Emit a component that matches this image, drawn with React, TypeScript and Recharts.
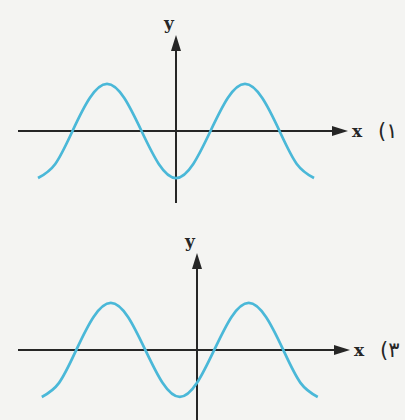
import { LineChart, Line, XAxis, YAxis, ReferenceLine } from 'recharts';

// x in quarter-periods (pi/4), y in amplitude units
const topX = [-8, -7, -6, -5, -4, -3, -2, -1, 0, 1, 2, 3, 4, 5, 6, 7, 8];
const topY = [-1, -0.7, 0, 0.7, 1, 0.7, 0, -0.7, -1, -0.7, 0, 0.7, 1, 0.7, 0, -0.7, -1];

const bottomX = [-9, -8, -7, -6, -5, -4, -3, -2, -1, 0, 1, 2, 3, 4, 5, 6, 7];
const bottomY = [-1, -0.7, 0, 0.7, 1, 0.7, 0, -0.7, -1, -0.7, 0, 0.7, 1, 0.7, 0, -0.7, -1];

const axisLabels = { x: 'x', y: 'y' };
const panelTags = ['(۱', '(۳'];

const AXIS = '#262626';
const CURVE = '#4ab8d8';
const BG = '#f4f4f2';

const topData = topX.map((x, i) => ({ x, y: topY[i] }));
const bottomData = bottomX.map((x, i) => ({ x, y: bottomY[i] }));

const textStyle = { fontFamily: '"DejaVu Serif", "Liberation Serif", serif', fontSize: 17, fill: AXIS, fontWeight: 700 };

const makeXAxisArrow = (tag: string) => (p: any) => {
  const xa = Math.min(p.x1, p.x2);
  const xb = Math.max(p.x1, p.x2);
  const y = p.y1;
  return (
    <g>
      <line x1={xa} y1={y} x2={xb - 8} y2={y} stroke={AXIS} strokeWidth={2} />
      <polygon points={`${xb},${y} ${xb - 16},${y - 5} ${xb - 16},${y + 5}`} fill={AXIS} />
      <text x={xb + 4} y={y + 6} {...textStyle}>{axisLabels.x}</text>
      <text
        x={xb + 30}
        y={y + 7}
        {...textStyle}
        fontWeight={400}
        fontFamily='"DejaVu Sans", sans-serif'
        fontSize={21}
        letterSpacing={7}
      >
        {tag}
      </text>
    </g>
  );
};

const yAxisArrow = (p: any) => {
  const x = p.x1;
  const ya = Math.min(p.y1, p.y2);
  const yb = Math.max(p.y1, p.y2);
  return (
    <g>
      <line x1={x} y1={ya + 8} x2={x} y2={yb} stroke={AXIS} strokeWidth={2} />
      <polygon points={`${x},${ya} ${x - 5},${ya + 16} ${x + 5},${ya + 16}`} fill={AXIS} />
      <text x={x - 7} y={ya - 6} textAnchor="middle" {...textStyle}>{axisLabels.y}</text>
    </g>
  );
};

function Panel({ data, xDomain, yDomain, margin, tag }: any) {
  return (
    <LineChart width={405} height={210} data={data} margin={margin}>
      <XAxis type="number" dataKey="x" domain={xDomain} allowDataOverflow hide />
      <YAxis type="number" domain={yDomain} allowDataOverflow hide />
      <ReferenceLine y={0} shape={makeXAxisArrow(tag)} />
      <ReferenceLine x={0} shape={yAxisArrow} />
      <Line
        type="natural"
        dataKey="y"
        stroke={CURVE}
        strokeWidth={2.7}
        dot={false}
        isAnimationActive={false}
      />
    </LineChart>
  );
}

export default function App() {
  return (
    <div style={{ position: 'fixed', left: 0, top: 0, width: 405, height: 420, background: BG, overflow: 'hidden' }}>
      <Panel
        data={topData}
        xDomain={[-9.16, 9.97]}
        yDomain={[-1.53, 2.04]}
        margin={{ top: 35, right: 57, bottom: 7, left: 18 }}
        tag={panelTags[0]}
      />
      <Panel
        data={bottomData}
        xDomain={[-10.38, 8.87]}
        yDomain={[-1.49, 2.06]}
        margin={{ top: 43, right: 55, bottom: 0, left: 18 }}
        tag={panelTags[1]}
      />
    </div>
  );
}
